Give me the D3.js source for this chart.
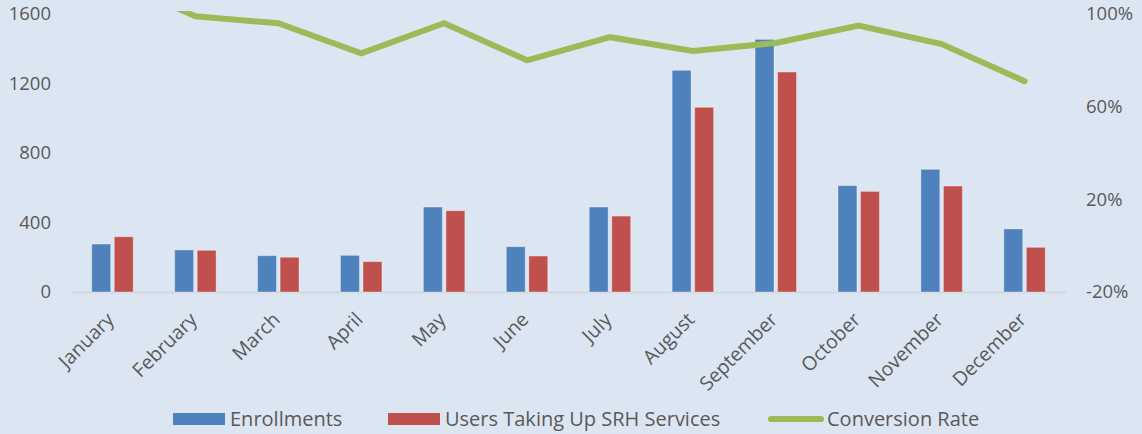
<!DOCTYPE html>
<html>
<head>
<meta charset="utf-8">
<script src="https://d3js.org/d3.v7.min.js"></script>
<style>
  body { margin: 0; background: #dce6f2; }
  svg text { font-family: "Open Sans", sans-serif; fill: #595959; }
</style>
</head>
<body>
<svg id="chart" width="1142" height="434"></svg>
<script>
var months = ["January", "February", "March", "April", "May", "June", "July",
              "August", "September", "October", "November", "December"];
var enrollments = [276, 242, 209, 211, 489, 261, 489, 1276, 1454, 612, 706, 363];
var users = [318, 240, 200, 175, 468, 207, 437, 1063, 1266, 579, 610, 257];
var conversion = [1.15, 0.99, 0.96, 0.83, 0.96, 0.80, 0.90, 0.84, 0.875, 0.95, 0.87, 0.71];
var leftTicks = [0, 400, 800, 1200, 1600];
var rightTicks = [-0.2, 0.2, 0.6, 1.0];
var seriesNames = ["Enrollments", "Users Taking Up SRH Services", "Conversion Rate"];
var colors = ["#4f81bd", "#c0504d", "#9bbb59"];

var svg = d3.select("#chart");
var plotLeft = 71, plotRight = 1066, plotTop = 14, plotBottom = 292;

var x = d3.scaleBand().domain(months).range([plotLeft, plotRight]).padding(0);
var inner = d3.scaleBand().domain([0, 1])
  .range([x.bandwidth() * 0.25, x.bandwidth() * 0.75]).paddingInner(0.16);
var y = d3.scaleLinear().domain([0, 1600]).range([plotBottom, plotTop]);
var y2 = d3.scaleLinear().domain([-0.2, 1.0]).range([plotBottom, plotTop]);

// baseline
svg.append("line")
  .attr("x1", plotLeft).attr("x2", plotRight)
  .attr("y1", plotBottom + 0.5).attr("y2", plotBottom + 0.5)
  .attr("stroke", "#d4d8de").attr("stroke-width", 2);

// bars
var groups = svg.selectAll("g.month")
  .data(months.map(function(m, i) { return { m: m, vals: [enrollments[i], users[i]] }; }))
  .enter().append("g")
  .attr("transform", function(d) { return "translate(" + x(d.m) + ",0)"; });

groups.selectAll("rect")
  .data(function(d) { return d.vals; })
  .enter().append("rect")
  .attr("x", function(d, i) { return inner(i); })
  .attr("width", inner.bandwidth())
  .attr("y", function(d) { return y(d); })
  .attr("height", function(d) { return plotBottom - y(d); })
  .attr("fill", function(d, i) { return colors[i]; })
  .attr("stroke", "rgba(255,255,255,0.35)")
  .attr("stroke-width", 1);

// line
svg.append("clipPath").attr("id", "clip")
  .append("rect").attr("x", 0).attr("y", 11).attr("width", 1142).attr("height", 423);

var line = d3.line()
  .x(function(d, i) { return x(months[i]) + x.bandwidth() / 2; })
  .y(function(d) { return y2(d); });

svg.append("path")
  .datum(conversion)
  .attr("clip-path", "url(#clip)")
  .attr("d", line)
  .attr("fill", "none")
  .attr("stroke", colors[2])
  .attr("stroke-width", 6)
  .attr("stroke-linecap", "round");

// left axis
var yAxis = d3.axisLeft(y).tickValues(leftTicks).tickSize(0).tickPadding(0)
  .tickFormat(d3.format("d"));
var gy = svg.append("g").attr("transform", "translate(51,0)").call(yAxis);
gy.select(".domain").remove();
gy.selectAll("text").style("font-size", "18.5px").style("font-family", null).attr("fill", "#595959");

// right axis
var y2Axis = d3.axisRight(y2).tickValues(rightTicks).tickSize(0).tickPadding(0)
  .tickFormat(function(d) { return Math.round(d * 100) + "%"; });
var gy2 = svg.append("g").attr("transform", "translate(1086,0)").call(y2Axis);
gy2.select(".domain").remove();
gy2.selectAll("text").style("font-size", "18.5px").attr("fill", "#595959");

// x labels
var xAxis = d3.axisBottom(x).tickSize(0).tickPadding(0);
var gx = svg.append("g").call(xAxis);
gx.select(".domain").remove();
gx.selectAll("text")
  .attr("y", 0).attr("dy", "0.35em")
  .attr("text-anchor", "end")
  .attr("transform", "translate(-2,316) rotate(-45)")
  .style("font-size", "19.5px").attr("fill", "#595959");

// remove d3's default axis font so CSS applies
svg.selectAll("g").attr("font-family", null).attr("font-size", null);

// legend
var legendItems = [
  { name: seriesNames[0], x: 173, type: "rect", color: colors[0] },
  { name: seriesNames[1], x: 388, type: "rect", color: colors[1] },
  { name: seriesNames[2], x: 768, type: "line", color: colors[2] }
];
var lg = svg.selectAll("g.legend").data(legendItems).enter().append("g")
  .attr("class", "legend")
  .attr("transform", function(d) { return "translate(" + d.x + ",419)"; });
lg.filter(function(d) { return d.type === "rect"; }).append("rect")
  .attr("x", 0).attr("y", -6).attr("width", 52).attr("height", 12)
  .attr("fill", function(d) { return d.color; });
lg.filter(function(d) { return d.type === "line"; }).append("line")
  .attr("x1", 3).attr("x2", 53).attr("y1", 0).attr("y2", 0)
  .attr("stroke", function(d) { return d.color; })
  .attr("stroke-width", 6).attr("stroke-linecap", "round");
lg.append("text")
  .attr("x", function(d) { return d.type === "rect" ? 57 : 59; })
  .attr("dy", "0.35em")
  .style("font-size", "20px")
  .text(function(d) { return d.name; });
</script>
</body>
</html>
